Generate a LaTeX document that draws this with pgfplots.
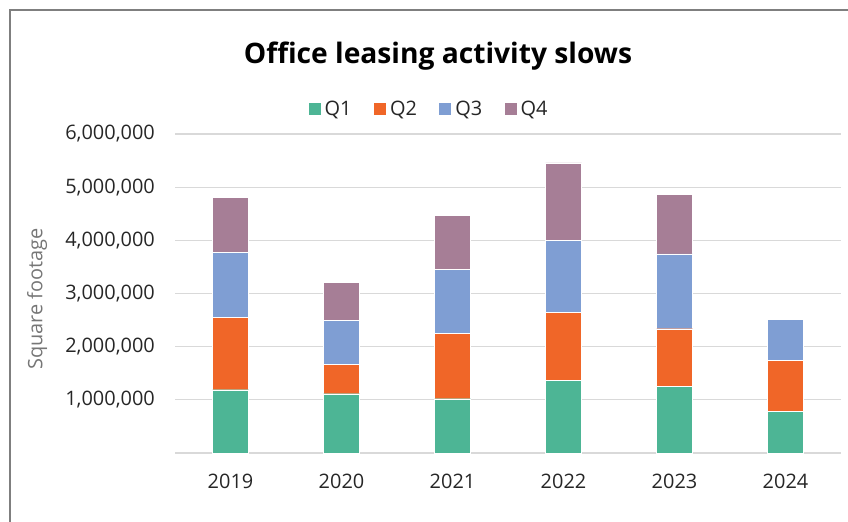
\documentclass[border=0pt]{standalone}
\usepackage{pgfplots}
\pgfplotsset{compat=1.18}
\usepackage{fontspec}
\setmainfont{Open Sans}
\definecolor{cQone}{HTML}{4DB595}
\definecolor{cQtwo}{HTML}{F06628}
\definecolor{cQthree}{HTML}{7F9ED3}
\definecolor{cQfour}{HTML}{A67E96}
\definecolor{gridc}{HTML}{D9D9D9}
\definecolor{framec}{HTML}{7F7F7F}
\definecolor{labc}{HTML}{767676}
\definecolor{txtc}{HTML}{262626}
\begin{document}
\begin{tikzpicture}[x=1bp,y=1bp]
\useasboundingbox (0,0) rectangle (848,522);
\draw[framec,line width=1.7bp] (9.7,0) -- (9.7,512) -- (848,512);
\node[font=\fontsize{28.3}{32}\selectfont\bfseries, anchor=base, text=black] at (438,458.5) {Office leasing activity slows};
\begin{axis}[
  at={(175bp,69bp)}, anchor=south west,
  scale only axis, width=666bp, height=319bp,
  xmin=-0.5, xmax=5.5, ymin=0, ymax=6000000,
  ybar stacked, bar width=36bp,
  axis line style={draw=none},
  major tick length=0pt,
  xtick={0,1,2,3,4,5},
  xticklabels={2019,2020,2021,2022,2023,2024},
  ytick={0,1000000,2000000,3000000,4000000,5000000,6000000},
  yticklabels={{},{1,000,000},{2,000,000},{3,000,000},{4,000,000},{5,000,000},{6,000,000}},
  scaled y ticks=false,
  ymajorgrids,
  major grid style={draw=gridc, line width=1.3bp},
  tick label style={font=\fontsize{20}{24}\selectfont, text=txtc},
  yticklabel style={inner sep=0pt, anchor=east, xshift=-20bp},
  xticklabel style={inner sep=0pt, anchor=north, yshift=-21bp},
  ylabel={Square footage},
  every axis y label/.style={at={(axis description cs:-0.207,0.483)}, rotate=90, anchor=center, font=\fontsize{20}{24}\selectfont, text=labc},
  legend columns=4,
  legend style={draw=none, at={(axis description cs:0.382,1.079)}, anchor=center,
    font=\fontsize{20}{24}\selectfont, text=txtc,
    /tikz/every even column/.append style={column sep=18bp},
    nodes={inner sep=3.5bp}},
  legend image code/.code={\fill[#1] (0bp,-6.5bp) rectangle (13bp,6.5bp);},
  clip=false,
]
\addplot+[fill=cQone, draw=white, line width=0.4bp] coordinates {(0,1190000) (1,1115000) (2,1021000) (3,1366000) (4,1247000) (5,783000)};
\addplot+[fill=cQtwo, draw=white, line width=0.4bp] coordinates {(0,1366000) (1,558000) (2,1235000) (3,1284000) (4,1090000) (5,953000)};
\addplot+[fill=cQthree, draw=white, line width=0.4bp] coordinates {(0,1216000) (1,827000) (2,1196000) (3,1347000) (4,1410000) (5,777000)};
\addplot+[fill=cQfour, draw=white, line width=0.4bp] coordinates {(0,1030000) (1,714000) (2,1022000) (3,1460000) (4,1121000)};
\legend{Q1,Q2,Q3,Q4}
\end{axis}
\end{tikzpicture}
\end{document}
